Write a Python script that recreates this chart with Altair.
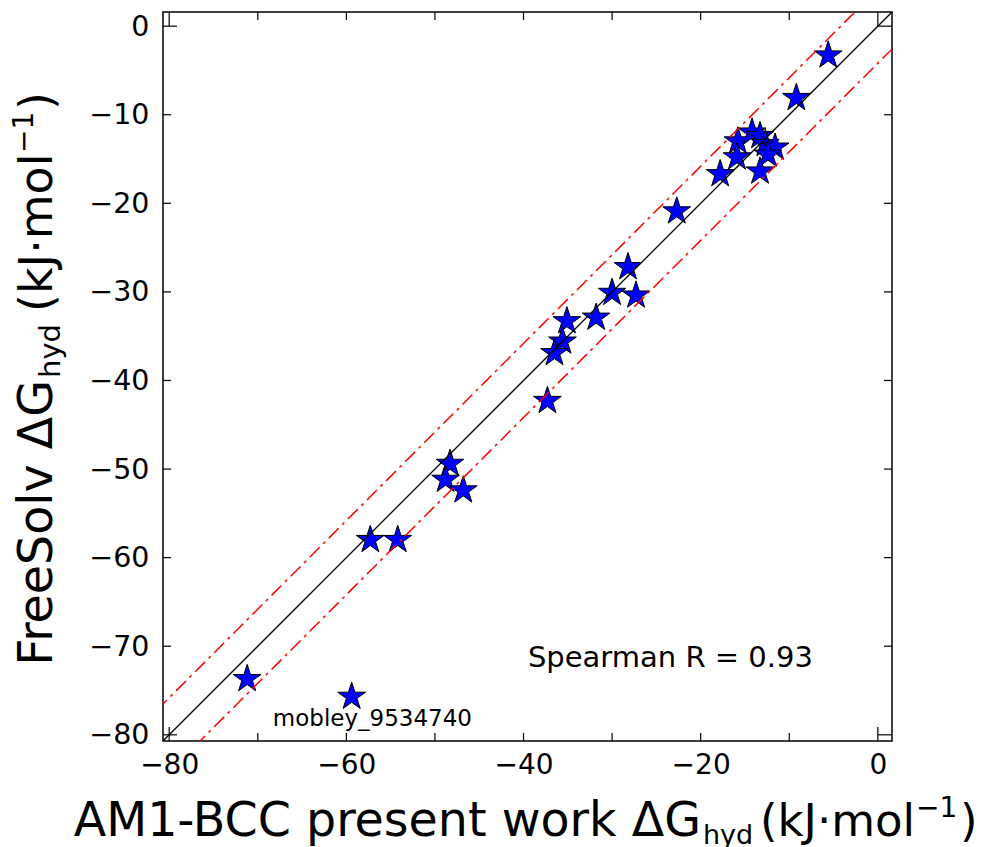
import altair as alt
import pandas as pd

# ---- data ----
am1_bcc = [-5.6, -9.2, -17.8, -15.8, -15.9, -14.2, -13.3, -12.7, -11.6, -12.4, -13.3,
           -22.7, -28.2, -30.0, -27.3, -31.8, -35.1, -35.6, -36.5, -37.3,
           -48.3, -48.8, -46.8, -57.3, -54.2, -71.2, -59.4]
freesolv = [-3.3, -8.1, -16.7, -13.0, -14.8, -12.0, -12.4, -13.3, -13.7, -14.5, -16.4,
            -20.9, -27.2, -30.1, -30.4, -32.9, -33.3, -35.6, -36.9, -42.3,
            -49.4, -51.2, -52.4, -58.0, -58.0, -73.7, -75.7]

axis_lim = [-80.7, 1.6]
line_ends = [-90.0, 10.0]
band = 4.184  # 1 kcal/mol
x_label_ticks = [-80, -60, -40, -20, 0]
y_label_ticks = [0, -10, -20, -30, -40, -50, -60, -70, -80]
short_ticks = [-70, -60, -50, -40, -30, -20, -10]
long_ticks = [-80, 0]

spearman_text = ["Spearman R = 0.93"]
spearman_x = [-39.5]
spearman_y = [-72.4]
outlier_text = ["mobley_9534740"]
outlier_x = [-68.3]
outlier_y = [-79.0]

W = 729
H = 729
FONT = "DejaVu Sans"
STAR = ("M0,-1L0.2245,-0.309L0.9511,-0.309L0.3633,0.118L0.5878,0.809L0,0.382"
        "L-0.5878,0.809L-0.3633,0.118L-0.9511,-0.309L-0.2245,-0.309Z")

pts = pd.DataFrame({"am1": am1_bcc, "fs": freesolv})
lines = pd.DataFrame({
    "x": line_ends,
    "y_id": line_ends,
    "y_up": [v + band for v in line_ends],
    "y_lo": [v - band for v in line_ends],
})

xs = alt.Scale(domain=axis_lim, nice=False, zero=False)
ys = alt.Scale(domain=axis_lim, nice=False, zero=False)

XAX = alt.Axis(orient="bottom", values=x_label_ticks, ticks=False, domain=False, grid=False,
               title=None, labelFont=FONT, labelFontSize=28, labelColor="black",
               labelPadding=10, format="d")
YAX = alt.Axis(orient="left", values=y_label_ticks, ticks=False, domain=False, grid=False,
               title=None, labelFont=FONT, labelFontSize=28.5, labelColor="black",
               labelPadding=14, format="d")


def X(f):
    return alt.X(f, scale=xs, axis=XAX)


def Y(f):
    return alt.Y(f, scale=ys, axis=YAX)


points = alt.Chart(pts).mark_point(shape=STAR, filled=True, fill="#0000ff", stroke="black",
                                   strokeWidth=1, opacity=1, size=850).encode(
    x=X("am1:Q"), y=Y("fs:Q"))

ident = alt.Chart(lines).mark_line(color="black", strokeWidth=1.3, clip=True).encode(
    x=X("x:Q"), y=Y("y_id:Q"))
upper = alt.Chart(lines).mark_line(color="red", strokeWidth=1.5, strokeDash=[14, 5, 3, 5],
                                   clip=True).encode(x=X("x:Q"), y=Y("y_up:Q"))
lower = alt.Chart(lines).mark_line(color="red", strokeWidth=1.5, strokeDash=[14, 5, 3, 5],
                                   clip=True).encode(x=X("x:Q"), y=Y("y_lo:Q"))

# inward ticks on all four sides
tick_layers = []
for vals, L in ((short_ticks, 8), (long_ticks, 14)):
    tdf = pd.DataFrame({"v": vals})
    rule = alt.Chart(tdf).mark_rule(color="black", strokeWidth=1.2)
    tick_layers += [
        rule.encode(x=X("v:Q"), y=alt.value(H), y2=alt.value(H - L)),
        rule.encode(x=X("v:Q"), y=alt.value(0), y2=alt.value(L)),
        rule.encode(y=Y("v:Q"), x=alt.value(0), x2=alt.value(L)),
        rule.encode(y=Y("v:Q"), x=alt.value(W), x2=alt.value(W - L)),
    ]

spear = alt.Chart(pd.DataFrame({"t": spearman_text, "x": spearman_x, "y": spearman_y})).mark_text(
    align="left", baseline="alphabetic", font=FONT, fontSize=29, color="black").encode(
    x=X("x:Q"), y=Y("y:Q"), text="t:N")
outl = alt.Chart(pd.DataFrame({"t": outlier_text, "x": outlier_x, "y": outlier_y})).mark_text(
    align="left", baseline="alphabetic", font=FONT, fontSize=23, color="black").encode(
    x=X("x:Q"), y=Y("y:Q"), text="t:N")

# ---- axis titles with sub/superscripts (pixel offsets relative to plot area) ----
x_title_parts = ["AM1-BCC present work ΔG", "hyd", "(kJ·mol", "−1", ")"]
y_title_parts = ["FreeSolv ΔG", "hyd", "(kJ·mol", "−1", ")"]
part_align = ["right", "left", "left", "left", "left"]
x_part_size = [47.5, 27, 45, 28, 45]
y_part_size = [47.5, 29, 46, 28, 46]
x_part_px = [538, 540, 597, 753, 797]
x_part_py = [824, 832, 824, 805, 824]
y_part_px = [-111, -103, -111, -130, -111]
y_part_py = [368, 366, 300, 141, 98]


def title_layers(parts, sizes, pxs, pys, angle):
    out = []
    for t, al, s, px, py in zip(parts, part_align, sizes, pxs, pys):
        out.append(
            alt.Chart(pd.DataFrame({"t": [t]})).mark_text(
                align=al, baseline="alphabetic", font=FONT, fontSize=s,
                color="black", angle=angle).encode(
                x=alt.value(px), y=alt.value(py), text="t:N")
        )
    return out


chart = alt.layer(
    points, ident, upper, lower, *tick_layers, spear, outl,
    *title_layers(x_title_parts, x_part_size, x_part_px, x_part_py, 0),
    *title_layers(y_title_parts, y_part_size, y_part_px, y_part_py, 270),
).properties(
    width=W, height=H,
    autosize=alt.AutoSizeParams(type="none"),
    padding={"left": 155, "top": 4, "right": 87, "bottom": 106},
    background="white",
).configure_view(stroke="black", strokeWidth=1.5)

chart.save("out.html", embed_options={"renderer": "svg", "actions": False})
